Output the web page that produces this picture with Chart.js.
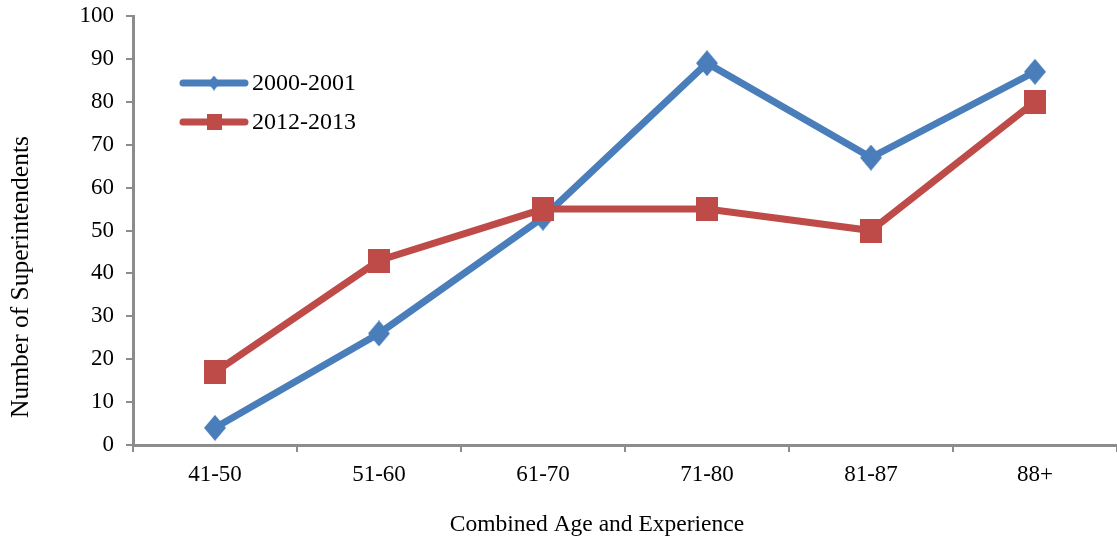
<!DOCTYPE html>
<html>
<head>
<meta charset="utf-8">
<script src="https://cdn.jsdelivr.net/npm/chart.js@4/dist/chart.umd.min.js"></script>
<style>
  html, body { margin: 0; padding: 0; background: #fff; }
  #wrap { width: 1117px; height: 541px; position: relative; }
</style>
</head>
<body>
<div id="wrap"><canvas id="c" width="1117" height="541"></canvas></div>
<script>
// Superintendents grouped by combined age and experience
const categories = ['41-50', '51-60', '61-70', '71-80', '81-87', '88+'];
const series2000 = [4, 26, 53, 89, 67, 87];
const series2012 = [17, 43, 55, 55, 50, 80];
const seriesNames = ['2000-2001', '2012-2013'];
const yTicks = [0, 10, 20, 30, 40, 50, 60, 70, 80, 90, 100];

const BLUE = '#4a7ebb';
const RED = '#be4b48';
const AXIS = '#8c8c8c';
const FONT = '"Liberation Serif", "Times New Roman", serif';

// Marker shapes: a slightly tall diamond and a slightly tall square
function diamond(w, h, color) {
  const c = document.createElement('canvas');
  c.width = w; c.height = h;
  const g = c.getContext('2d');
  g.fillStyle = color;
  g.beginPath();
  g.moveTo(w / 2, 0); g.lineTo(w, h / 2); g.lineTo(w / 2, h); g.lineTo(0, h / 2);
  g.closePath();
  g.fill();
  return c;
}
function square(w, h, color) {
  const c = document.createElement('canvas');
  c.width = w; c.height = h;
  const g = c.getContext('2d');
  g.fillStyle = color;
  g.fillRect(0, 0, w, h);
  return c;
}

const markers = [
  { point: diamond(22, 26, BLUE), key: diamond(12, 15, BLUE) },
  { point: square(22, 24, RED), key: square(15, 16, RED) }
];

// Legend drawn inside the plot area, plus the two axis titles
const decorations = {
  id: 'decorations',
  afterDraw(chart) {
    const ctx = chart.ctx;
    ctx.save();
    ctx.font = '24px ' + FONT;
    ctx.textBaseline = 'middle';

    chart.data.datasets.forEach((ds, i) => {
      const y = 83 + i * 39;
      ctx.strokeStyle = ds.borderColor;
      ctx.lineWidth = 7;
      ctx.lineCap = 'round';
      ctx.beginPath();
      ctx.moveTo(183, y);
      ctx.lineTo(245, y);
      ctx.stroke();
      const k = markers[i].key;
      ctx.drawImage(k, 214 - k.width / 2, y - k.height / 2);
      ctx.fillStyle = '#000';
      ctx.textAlign = 'left';
      ctx.fillText(ds.label, 252, y + 1);
    });

    // axis titles
    ctx.fillStyle = '#000';
    ctx.font = '23.5px ' + FONT;
    ctx.textAlign = 'center';
    ctx.fillText('Combined Age and Experience', 597, 525);
    ctx.translate(21, 277);
    ctx.rotate(-Math.PI / 2);
    ctx.font = '25.5px ' + FONT;
    ctx.fillText('Number of Superintendents', 0, 0);
    ctx.restore();
  }
};

new Chart(document.getElementById('c'), {
  type: 'line',
  data: {
    labels: categories,
    datasets: [
      {
        label: seriesNames[0],
        data: series2000,
        borderColor: BLUE,
        backgroundColor: BLUE,
        borderWidth: 7,
        pointStyle: markers[0].point,
        tension: 0,
        order: 2
      },
      {
        label: seriesNames[1],
        data: series2012,
        borderColor: RED,
        backgroundColor: RED,
        borderWidth: 7,
        pointStyle: markers[1].point,
        tension: 0,
        order: 1
      }
    ]
  },
  options: {
    responsive: false,
    animation: false,
    devicePixelRatio: 1,
    layout: { autoPadding: false, padding: { top: 16, right: 0, bottom: 0, left: 0 } },
    plugins: { legend: { display: false }, tooltip: { enabled: false } },
    scales: {
      x: {
        offset: true,
        grid: { display: true, drawOnChartArea: false, offset: true, tickLength: 7, color: AXIS, lineWidth: 2 },
        border: { display: true, color: AXIS, width: 3 },
        ticks: { color: '#000', font: { family: FONT, size: 23 }, padding: 9, maxRotation: 0 },
        afterFit(scale) { scale.height = 96; scale.paddingLeft = 0; scale.paddingRight = 0; }
      },
      y: {
        min: 0,
        max: 100,
        afterBuildTicks(scale) { scale.ticks = yTicks.map(v => ({ value: v })); },
        grid: { display: true, drawOnChartArea: false, tickLength: 7, color: AXIS, lineWidth: 2 },
        border: { display: true, color: AXIS, width: 3 },
        ticks: { color: '#000', font: { family: FONT, size: 23 }, padding: 12 },
        afterFit(scale) { scale.width = 133; scale.paddingTop = 0; scale.paddingBottom = 0; }
      }
    }
  },
  plugins: [decorations]
});
</script>
</body>
</html>
